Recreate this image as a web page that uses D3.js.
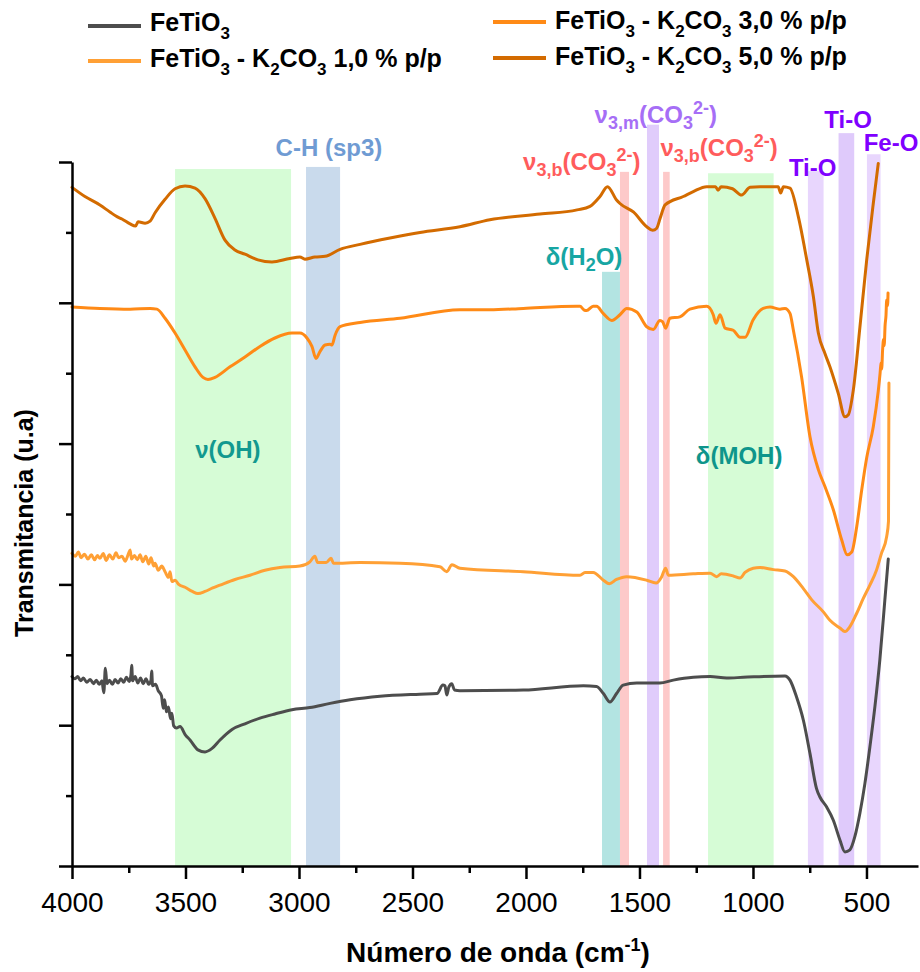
<!DOCTYPE html>
<html>
<head>
<meta charset="utf-8">
<script src="https://cdn.jsdelivr.net/npm/d3@7"></script>
<style>
  html, body { margin: 0; padding: 0; background: #ffffff; }
  svg { display: block; font-family: "Liberation Sans", Arial, Helvetica, sans-serif; }
  text, tspan { white-space: pre; }
</style>
</head>
<body>
<svg id="chart" width="920" height="972"></svg>
<script>
// ---------------- Data: FTIR spectra (wavenumber cm-1, transmittance in a.u., offset) ----------------
const feTiO3 = [
  [4000,26.9],[3988,26.6],[3975,26.9],[3962,26.3],[3950,26.7],[3935,26.1],[3920,26.5],[3905,25.9],
  [3893,26.4],[3880,25.8],[3868,26.3],[3860,24.6],[3853,28.1],[3846,25.9],[3835,26.4],[3822,25.8],
  [3810,26.5],[3797,26.0],[3785,26.6],[3772,26.1],[3760,26.8],[3748,26.2],[3740,27.2],[3737,28.5],
  [3733,26.3],[3722,26.9],[3710,26.0],[3698,26.7],[3686,25.9],[3674,26.6],[3662,25.8],[3652,26.4],
  [3649,27.7],[3645,25.6],[3632,25.8],[3620,24.9],[3606,24.2],[3598,22.4],[3592,23.6],[3584,21.9],
  [3575,22.6],[3566,20.9],[3560,21.7],[3552,19.9],[3540,19.6],[3524,19.8],[3500,18.6],[3480,17.9],
  [3445,16.5],[3414,16.2],[3383,16.7],[3348,17.9],[3295,19.4],[3238,20.2],[3172,21.0],[3106,21.6],
  [3031,22.2],[2952,22.5],[2863,23.1],[2775,23.6],[2643,24.1],[2467,24.4],[2392,24.5],[2366,25.7],
  [2357,25.6],[2349,24.3],[2340,25.4],[2327,25.9],[2315,25.0],[2291,24.9],[2012,25.0],[1747,25.6],
  [1689,25.5],[1659,24.5],[1630,23.3],[1601,24.5],[1572,25.7],[1512,26.0],[1410,26.0],[1351,26.4],
  [1263,26.8],[1189,26.9],[1116,26.7],[1043,26.8],[859,27.0],[837,26.4],[808,24.0],[778,20.7],
  [749,16.0],[720,11.0],[705,9.8],[676,8.4],[646,6.5],[617,3.7],[595,2.0],[573,2.3],[551,4.2],
  [529,7.5],[507,11.7],[485,16.9],[463,22.6],[441,29.3],[419,37.8],[404,43.6]
];

const k2co3_1 = [
  [4000,44.4],[3985,44.0],[3972,44.6],[3960,43.8],[3945,44.3],[3930,43.6],[3915,44.2],[3900,43.5],
  [3888,44.1],[3877,43.7],[3862,44.4],[3850,43.4],[3835,44.2],[3820,43.6],[3806,44.5],[3795,43.8],
  [3780,44.0],[3766,43.3],[3752,44.3],[3744,44.9],[3738,43.6],[3725,44.1],[3712,43.5],[3700,44.2],
  [3688,43.2],[3675,44.0],[3662,42.9],[3652,43.8],[3640,42.6],[3634,43.0],[3620,42.0],[3605,42.6],
  [3590,41.8],[3575,41.0],[3568,41.8],[3560,40.4],[3546,40.6],[3530,40.0],[3502,39.6],[3470,39.0],
  [3445,38.7],[3414,39.0],[3380,39.5],[3348,39.9],[3282,40.7],[3216,41.3],[3150,42.0],[3084,42.4],
  [2996,42.6],[2952,43.2],[2930,44.0],[2918,43.1],[2880,43.1],[2859,43.7],[2848,43.0],[2731,43.1],
  [2555,43.0],[2379,42.5],[2349,41.8],[2326,42.8],[2291,42.3],[2012,41.8],[1762,41.3],[1740,41.7],
  [1704,41.7],[1659,40.6],[1633,40.1],[1601,40.7],[1556,41.1],[1468,40.6],[1427,40.2],[1402,41.1],
  [1385,42.3],[1373,41.3],[1263,41.5],[1189,41.6],[1160,41.1],[1140,41.5],[1087,41.2],[1057,40.9],
  [1035,41.7],[999,42.3],[969,42.4],[910,42.1],[859,41.9],[822,41.1],[778,39.4],[741,37.8],
  [690,36.1],[661,34.9],[617,33.8],[595,33.3],[573,34.0],[543,35.9],[514,38.0],[485,39.9],
  [456,42.0],[434,44.4],[411,46.8],[403,49.0],[401,68.6]
];

const k2co3_3 = [
  [4000,79.4],[3877,79.2],[3744,79.1],[3656,79.2],[3626,79.1],[3590,77.8],[3546,75.7],[3502,73.3],
  [3458,70.9],[3423,69.4],[3401,69.1],[3370,69.4],[3304,70.9],[3238,72.3],[3172,73.8],[3106,75.0],
  [3031,75.7],[2996,75.7],[2965,75.0],[2943,73.8],[2925,72.1],[2907,73.1],[2885,74.0],[2863,74.1],
  [2855,74.0],[2841,75.4],[2819,76.6],[2731,77.2],[2555,77.8],[2291,79.0],[2159,79.0],[2012,79.2],
  [1777,79.5],[1762,79.5],[1745,79.0],[1733,78.9],[1704,79.5],[1689,79.5],[1660,78.5],[1622,77.5],
  [1586,78.3],[1556,79.2],[1512,78.7],[1468,76.6],[1439,76.2],[1410,77.5],[1398,77.3],[1385,76.4],
  [1366,77.8],[1322,78.0],[1278,79.1],[1204,79.5],[1175,78.3],[1163,77.1],[1145,78.3],[1123,76.4],
  [1087,76.1],[1057,75.1],[1035,75.1],[999,77.6],[955,79.2],[925,79.4],[881,79.1],[859,79.2],
  [837,78.5],[822,76.1],[786,69.5],[749,61.0],[712,56.3],[683,53.9],[646,50.6],[609,46.3],
  [585,44.2],[565,44.6],[543,48.2],[521,53.4],[499,58.0],[470,62.4],[448,67.5],[440,70.0],
  [436,71.5],[433,70.6],[429,73.3],[425,74.8],[422,73.9],[418,76.8],[414,78.2],[411,80.4],
  [407,79.6],[405,81.4]
];

const k2co3_5 = [
  [4000,96.4],[3943,95.1],[3877,93.9],[3833,92.9],[3800,92.2],[3780,91.9],[3744,91.2],[3720,90.9],
  [3709,91.5],[3678,91.3],[3656,91.6],[3634,92.8],[3590,94.7],[3546,96.2],[3502,96.6],[3458,96.3],
  [3414,94.8],[3370,92.0],[3326,88.9],[3282,87.5],[3238,86.9],[3181,86.1],[3119,85.8],[3040,86.3],
  [2996,86.5],[2974,86.2],[2930,86.5],[2885,86.6],[2819,87.6],[2731,88.3],[2599,89.2],[2467,90.0],
  [2291,90.8],[2159,91.8],[1938,92.6],[1775,93.2],[1718,93.7],[1674,95.1],[1641,96.5],[1601,94.6],
  [1586,94.1],[1527,92.9],[1468,90.8],[1442,90.3],[1424,90.6],[1409,92.0],[1387,93.9],[1307,95.1],
  [1263,95.8],[1204,96.5],[1165,96.5],[1154,96.0],[1140,96.5],[1090,96.2],[1050,95.3],[1013,96.4],
  [969,96.5],[889,96.5],[878,95.6],[866,96.5],[837,96.3],[800,92.2],[763,86.1],[734,80.9],
  [712,75.7],[683,72.8],[661,70.9],[624,67.1],[595,63.8],[580,64.1],[558,67.6],[529,76.5],
  [499,86.1],[470,94.1],[448,99.8]
];

const series = [feTiO3, k2co3_1, k2co3_3, k2co3_5];

// Legend names (rich text parts: [text, "" | "sub" | "sup"])
const seriesNames = [
  [["FeTiO",""],["3","sub"]],
  [["FeTiO",""],["3","sub"],[" - K",""],["2","sub"],["CO",""],["3","sub"],[" 1,0 % p/p",""]],
  [["FeTiO",""],["3","sub"],[" - K",""],["2","sub"],["CO",""],["3","sub"],[" 3,0 % p/p",""]],
  [["FeTiO",""],["3","sub"],[" - K",""],["2","sub"],["CO",""],["3","sub"],[" 5,0 % p/p",""]]
];

// Assignment bands (wavenumber ranges, cm-1) and their upper extent (a.u.)
const bandRanges = [[3546,3035],[2969,2819],[1665,1586],[1586,1546],[1467,1414],[1396,1367],[1198,909],[758,689],[623,554],[498,438]];
const bandTops   = [99.0, 99.3, 84.4, 98.6, 105.3, 98.6, 98.4, 98.7, 104.1, 101.1];

// Band labels: [wavenumber of centre, a.u. of baseline, rich text]
const bandLabels = [
  [3313, 57.9, [["ν(OH)",""]]],
  [2868, 100.8, [["C-H (sp3)",""]]],
  [1744, 85.4, [["δ(H",""],["2","sub"],["O)",""]]],
  [1754, 98.9, [["ν",""],["3,b","sub"],["(CO",""],["3","sub"],["2-","sup"],[")",""]]],
  [1428, 105.5, [["ν",""],["3,m","sub"],["(CO",""],["3","sub"],["2-","sup"],[")",""]]],
  [1149, 100.8, [["ν",""],["3,b","sub"],["(CO",""],["3","sub"],["2-","sup"],[")",""]]],
  [1061, 57.1, [["δ(MOH)",""]]],
  [737, 98.0, [["Ti-O",""]]],
  [581, 104.8, [["Ti-O",""]]],
  [392, 101.5, [["Fe-O",""]]]
];

const xMajorTicks = [4000,3500,3000,2500,2000,1500,1000,500];
const xMinorTicks = [3750,3250,2750,2250,1750,1250,750];
const yMajorTicks = [0,20,40,60,80,100];
const yMinorTicks = [10,30,50,70,90];

// ---------------- Styles ----------------
const lineColors  = ["#4d4d4d", "#ffa035", "#ff8a16", "#d36b00"];
const bandColors  = ["#d6fcd6", "#c9daec", "#b3e4e2", "#fdc9c9", "#e0ccfb", "#fdc9c9", "#d6fcd6", "#e8d6fd", "#dfcafb", "#e8d6fd"];
const labelColors = ["#12998f", "#6f9bd3", "#17a6a3", "#ff5c5c", "#a66ef6", "#ff5c5c", "#0e958b", "#7f00ff", "#7f00ff", "#7f00ff"];

// ---------------- Scales ----------------
const svg = d3.select("#chart");
const x = d3.scaleLinear().domain([4000, 273]).range([72, 918]);
const y = d3.scaleLinear().domain([0, 100]).range([866, 162]);

// Rich text helper for sub/superscripts
function rich(textSel, parts, size, smallSize, subDy, supDy) {
  let cur = 0;
  parts.forEach(([t, kind]) => {
    const target = kind === "sub" ? subDy : kind === "sup" ? supDy : 0;
    textSel.append("tspan")
      .attr("dy", target - cur)
      .attr("font-size", kind ? smallSize : size)
      .text(t);
    cur = target;
  });
}

// ---------------- Bands ----------------
const gBands = svg.append("g");
bandRanges.forEach((r, i) => {
  gBands.append("rect")
    .attr("x", x(r[0]))
    .attr("width", x(r[1]) - x(r[0]))
    .attr("y", y(bandTops[i]))
    .attr("height", y(0) - y(bandTops[i]))
    .attr("fill", bandColors[i]);
});

// ---------------- Spectra ----------------
const line = d3.line().x(d => x(d[0])).y(d => y(d[1])).curve(d3.curveMonotoneX);
const gLines = svg.append("g");
series.forEach((s, i) => {
  gLines.append("path")
    .datum(s)
    .attr("d", line)
    .attr("fill", "none")
    .attr("stroke", lineColors[i])
    .attr("stroke-width", 3)
    .attr("stroke-linejoin", "round")
    .attr("stroke-linecap", "round");
});

// ---------------- Axes ----------------
const axisStroke = 2.5;
const gx = svg.append("g").attr("transform", `translate(0,${y(0)})`)
  .call(d3.axisBottom(x).tickValues(xMajorTicks).tickSize(13).tickSizeOuter(0).tickPadding(13).tickFormat(d3.format("d")));
svg.append("g").attr("transform", `translate(0,${y(0)})`)
  .call(d3.axisBottom(x).tickValues(xMinorTicks).tickSize(7).tickSizeOuter(0).tickFormat(""))
  .call(g => g.select(".domain").remove());
gx.selectAll("text").attr("font-size", 28).attr("fill", "#000").attr("font-family", "Liberation Sans, Arial, sans-serif");

const gy = svg.append("g").attr("transform", `translate(${x(4000)},0)`)
  .call(d3.axisLeft(y).tickValues(yMajorTicks).tickSize(13).tickSizeOuter(0).tickFormat(""));
svg.append("g").attr("transform", `translate(${x(4000)},0)`)
  .call(d3.axisLeft(y).tickValues(yMinorTicks).tickSize(6).tickSizeOuter(0).tickFormat(""))
  .call(g => g.select(".domain").remove());

svg.selectAll(".domain, .tick line").attr("stroke", "#000").attr("stroke-width", axisStroke);

// Axis titles
const xt = svg.append("text")
  .attr("x", 498).attr("y", 962)
  .attr("text-anchor", "middle").attr("font-weight", "bold").attr("fill", "#000");
rich(xt, [["Número de onda (cm",""],["-1","sup"],[")",""]], 28, 18, 6, -11);

svg.append("text")
  .attr("transform", "translate(33,523) rotate(-90)")
  .attr("text-anchor", "middle").attr("font-weight", "bold").attr("font-size", 25).attr("fill", "#000")
  .text("Transmitancia (u.a)");

// ---------------- Band labels ----------------
bandLabels.forEach((b, i) => {
  const t = svg.append("text")
    .attr("x", x(b[0])).attr("y", y(b[1]))
    .attr("text-anchor", "middle").attr("font-weight", "bold")
    .attr("fill", labelColors[i]);
  rich(t, b[2], 24, 18, 6, -9);
});

// ---------------- Legend ----------------
const legendPos = [[88, 26, 31], [88, 61, 67], [493, 22, 29], [493, 58, 65]];
legendPos.forEach((p, i) => {
  svg.append("line")
    .attr("x1", p[0]).attr("x2", p[0] + 53)
    .attr("y1", p[1]).attr("y2", p[1])
    .attr("stroke", lineColors[i]).attr("stroke-width", 4);
  const t = svg.append("text")
    .attr("x", p[0] + 62).attr("y", p[2])
    .attr("font-weight", "bold").attr("fill", "#000");
  rich(t, seriesNames[i], 25, 17, 8, -8);
});
</script>
</body>
</html>
